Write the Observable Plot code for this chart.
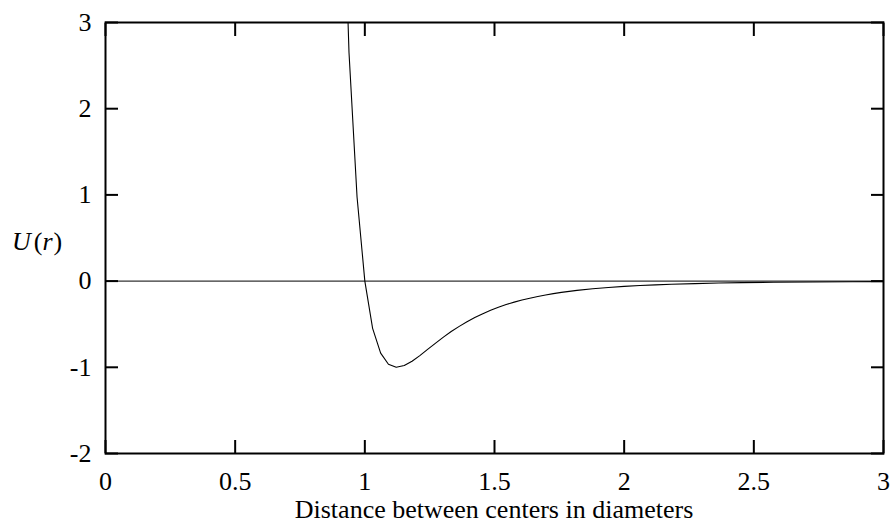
<!DOCTYPE html>
<html><head><meta charset="utf-8">
<script src="https://cdn.jsdelivr.net/npm/d3@7"></script>
<script src="https://cdn.jsdelivr.net/npm/@observablehq/plot@0.6"></script>
<style>html,body{margin:0;padding:0;background:#fff}#chart svg{display:block}#chart svg text{font-family:'Liberation Serif','Times New Roman',Times,serif}</style>
</head><body><div id="chart"></div>
<script>
// Distance between centers (diameters) and potential U(r)
const rValues = [0.909, 0.939, 0.970, 1.000, 1.030, 1.061, 1.091, 1.121, 1.152, 1.182,
  1.212, 1.242, 1.273, 1.303, 1.333, 1.364, 1.394, 1.424, 1.455, 1.485,
  1.515, 1.545, 1.576, 1.606, 1.636, 1.667, 1.697, 1.727, 1.758, 1.788,
  1.818, 1.879, 1.939, 2.000, 2.061, 2.121, 2.182, 2.273, 2.364, 2.455,
  2.576, 2.727, 2.879, 3.000];
const uValues = [5.47, 2.65, 0.976, 0.000, -0.548, -0.836, -0.965, -1.000, -0.980, -0.929,
  -0.864, -0.792, -0.720, -0.650, -0.585, -0.525, -0.471, -0.422, -0.378, -0.338,
  -0.303, -0.272, -0.244, -0.220, -0.198, -0.178, -0.161, -0.145, -0.131, -0.119,
  -0.108, -0.089, -0.074, -0.0615, -0.0515, -0.0434, -0.0367, -0.0288, -0.0228, -0.0182,
  -0.0137, -0.0097, -0.0070, -0.0055];
const zeroLine = [0];
const xTicks = [0, 0.5, 1, 1.5, 2, 2.5, 3];
const xTickLabels = ["0", "0.5", "1", "1.5", "2", "2.5", "3"];
const yTicks = [-2, -1, 0, 1, 2, 3];
const yTickLabels = ["-2", "-1", "0", "1", "2", "3"];
const xLabel = "Distance between centers in diameters";
const yLabelParts = [["U", true], ["(", false], ["r", true], [")", false]];

const points = rValues.map((r, i) => ({r, u: uValues[i]}));
const fmtX = d => xTickLabels[xTicks.indexOf(d)];
const fmtY = d => yTickLabels[yTicks.indexOf(d)];
const none = () => "";
const FONT = "'Liberation Serif', 'Times New Roman', Times, serif";
const FS = 26;

const plot = Plot.plot({
  width: 893, height: 525,
  marginLeft: 105, marginRight: 10, marginTop: 22, marginBottom: 72,
  style: {fontFamily: FONT, fontSize: FS + "px", color: "black", background: "white"},
  x: {domain: [0, 3]},
  y: {domain: [-2, 3]},
  marks: [
    Plot.ruleY(zeroLine, {stroke: "black", strokeWidth: 1}),
    Plot.line(points, {x: "r", y: "u", stroke: "black", strokeWidth: 1.1, clip: true}),
    Plot.axisX(xTicks, {anchor: "bottom", tickSize: -13, strokeWidth: 2, tickFormat: none, label: null}),
    Plot.axisX(xTicks, {anchor: "top", tickSize: -13, strokeWidth: 2, tickFormat: none, label: null}),
    Plot.axisY(yTicks, {anchor: "left", tickSize: -13, strokeWidth: 2, tickFormat: none, label: null}),
    Plot.axisY(yTicks, {anchor: "right", tickSize: -13, strokeWidth: 2, tickFormat: none, label: null}),
    Plot.axisX(xTicks, {anchor: "bottom", tickSize: 0, tickPadding: 18, tickFormat: fmtX, label: null, fontSize: FS, fontFamily: FONT, fontVariant: "normal"}),
    Plot.axisY(yTicks, {anchor: "left", tickSize: 0, tickPadding: 14, tickFormat: fmtY, label: null, fontSize: FS, fontFamily: FONT, fontVariant: "normal"}),
    Plot.frame({stroke: "black", strokeWidth: 2})
  ]
});

const svg = d3.select(plot);
svg.append("text")
  .attr("x", 494).attr("y", 518)
  .attr("text-anchor", "middle")
  .attr("font-family", FONT).attr("font-size", FS).attr("fill", "black")
  .text(xLabel);
const yl = svg.append("text")
  .attr("x", 12).attr("y", 250)
  .attr("text-anchor", "start")
  .attr("font-family", FONT).attr("font-size", FS).attr("fill", "black");
yLabelParts.forEach(([t, it], i) => {
  const ts = yl.append("tspan").text(t);
  if (it) ts.attr("font-style", "italic");
  if (i === 1) ts.attr("dx", 3);
  if (i === 3) ts.attr("dx", 1);
});
document.getElementById("chart").appendChild(plot);
</script>
</body></html>
